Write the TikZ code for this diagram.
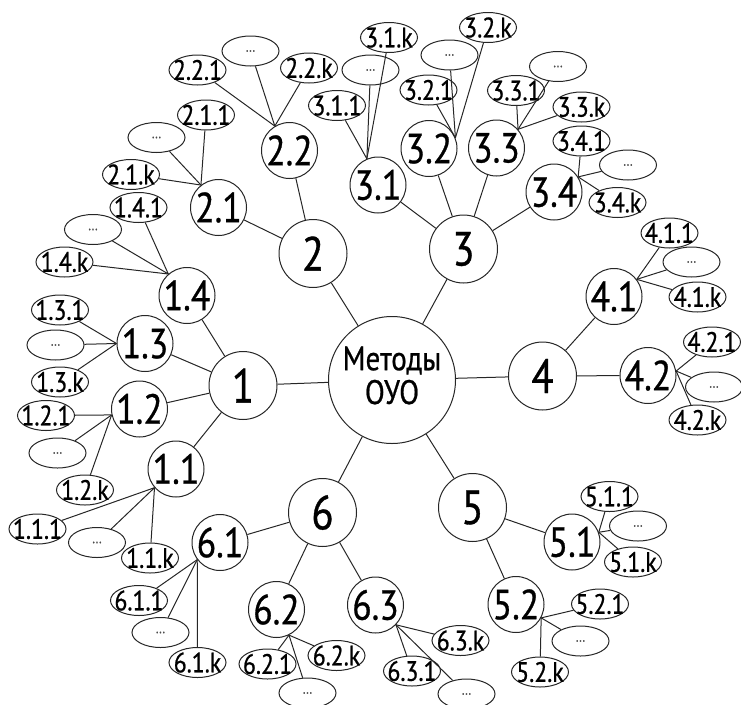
\documentclass[tikz,border=0pt]{standalone}
\usepackage{fontspec}
\setmainfont{PT Sans}[FakeStretch=0.85, FakeBold=0.7]
\usetikzlibrary{shapes.geometric}
\newcommand\zb[1]{\makebox[0pt]{#1}}
\tikzset{
  lvone/.style={circle, draw=black!85, fill=white, minimum size=68pt, inner sep=0pt, font=\fontsize{48}{48}\selectfont},
  lvtwo/.style={circle, draw=black!85, fill=white, minimum size=56pt, inner sep=0pt, font=\fontsize{42}{42}\selectfont},
  leaf/.style={ellipse, draw=black!85, fill=white, minimum width=57pt, minimum height=30pt, inner sep=0pt, font=\fontsize{28}{28}\selectfont},
  dots/.style={leaf, font=\fontsize{14}{14}\selectfont, text=black!70},
  hub/.style={circle, draw=black!85, fill=white, minimum size=127pt, inner sep=0pt, font=\fontsize{34}{32}\selectfont},
  link/.style={draw=black!85}
}
\begin{document}
\begin{tikzpicture}[x=1pt, y=-1pt, line width=1pt]
\useasboundingbox (0,0) rectangle (741,704);
% centre
\node[hub] (c) at (392,380) {\zb{\begin{tabular}{@{}c@{}}Методы\\ОУО\end{tabular}}};
% level 1
\node[lvone] (n1) at (243,385.5) {\zb{1}};
\node[lvone] (n2) at (313,253.5) {\zb{2}};
\node[lvone] (n3) at (463.5,249) {\zb{3}};
\node[lvone] (n4) at (542.5,376) {\zb{4}};
\node[lvone] (n5) at (472.5,507.5) {\zb{5}};
\node[lvone] (n6) at (322.5,512.5) {\zb{6}};
% level 2
\node[lvtwo] (n11) at (176,469) {\zb{1.1}};
\node[lvtwo] (n12) at (139.5,409) {\zb{1.2}};
\node[lvtwo] (n13) at (145,343.5) {\zb{1.3}};
\node[lvtwo] (n14) at (187,295.5) {\zb{1.4}};
\node[lvtwo] (n21) at (218.5,207.5) {\zb{2.1}};
\node[lvtwo] (n22) at (289.5,150.5) {\zb{2.2}};
\node[lvtwo] (n31) at (378,185) {\zb{3.1}};
\node[lvtwo] (n32) at (429,148.5) {\zb{3.2}};
\node[lvtwo] (n33) at (496.5,148) {\zb{3.3}};
\node[lvtwo] (n34) at (554,192) {\zb{3.4}};
\node[lvtwo] (n41) at (614,296.5) {\zb{4.1}};
\node[lvtwo] (n42) at (648,375.5) {\zb{4.2}};
\node[lvtwo] (n51) at (572,542) {\zb{5.1}};
\node[lvtwo] (n52) at (516,604.5) {\zb{5.2}};
\node[lvtwo] (n61) at (220,542.5) {\zb{6.1}};
\node[lvtwo] (n62) at (276.5,609.5) {\zb{6.2}};
\node[lvtwo] (n63) at (375.5,605) {\zb{6.3}};
% leaves
\node[leaf] (l111) at (37.5,529) {\zb{1.1.1}};
\node[dots] (l11d) at (97,542.5) {\zb{...}};
\node[leaf] (l11k) at (150,558) {\zb{1.1.k}};
\node[leaf] (l121) at (46,415.5) {\zb{1.2.1}};
\node[dots] (l12d) at (57.5,453) {\zb{...}};
\node[leaf] (l12k) at (85,490) {\zb{1.2.k}};
\node[leaf] (l131) at (60,310) {\zb{1.3.1}};
\node[dots] (l13d) at (55.5,345) {\zb{...}};
\node[leaf] (l13k) at (60,382) {\zb{1.3.k}};
\node[leaf] (l141) at (138.5,207.5) {\zb{1.4.1}};
\node[dots] (l14d) at (93,229.5) {\zb{...}};
\node[leaf] (l14k) at (64.5,262) {\zb{1.4.k}};
\node[leaf] (l211) at (206,115) {\zb{2.1.1}};
\node[dots] (l21d) at (156.5,137.5) {\zb{...}};
\node[leaf] (l21k) at (131,174.5) {\zb{2.1.k}};
\node[leaf] (l221) at (197.5,70) {\zb{2.2.1}};
\node[dots] (l22d) at (250.5,51) {\zb{...}};
\node[leaf] (l22k) at (309,68) {\zb{2.2.k}};
\node[leaf] (l311) at (337,105.5) {\zb{3.1.1}};
\node[dots] (l31d) at (370.5,70) {\zb{...}};
\node[leaf] (l31k) at (389,37.5) {\zb{3.1.k}};
\node[leaf] (l321) at (428.5,90) {\zb{3.2.1}};
\node[dots] (l32d) at (449.5,55) {\zb{...}};
\node[leaf] (l32k) at (488,27.5) {\zb{3.2.k}};
\node[leaf] (l331) at (516,90.5) {\zb{3.3.1}};
\node[dots] (l33d) at (558,66.5) {\zb{...}};
\node[leaf] (l33k) at (581.5,107) {\zb{3.3.k}};
\node[leaf] (l341) at (581.5,141) {\zb{3.4.1}};
\node[dots] (l34d) at (628,165) {\zb{...}};
\node[leaf] (l34k) at (617.5,202.5) {\zb{3.4.k}};
\node[leaf] (l411) at (669.5,233) {\zb{4.1.1}};
\node[dots] (l41d) at (691.5,262) {\zb{...}};
\node[leaf] (l41k) at (697.5,297) {\zb{4.1.k}};
\node[leaf] (l421) at (712,342) {\zb{4.2.1}};
\node[dots] (l42d) at (714,387) {\zb{...}};
\node[leaf] (l42k) at (697.5,420) {\zb{4.2.k}};
\node[leaf] (l511) at (609.5,496.5) {\zb{5.1.1}};
\node[dots] (l51d) at (638,526) {\zb{...}};
\node[leaf] (l51k) at (633,562) {\zb{5.1.k}};
\node[leaf] (l521) at (600,604) {\zb{5.2.1}};
\node[dots] (l52d) at (580.5,641) {\zb{...}};
\node[leaf] (l52k) at (540,672) {\zb{5.2.k}};
\node[leaf] (l611) at (139,600.5) {\zb{6.1.1}};
\node[dots] (l61d) at (160.5,632.5) {\zb{...}};
\node[leaf] (l61k) at (197.5,662.5) {\zb{6.1.k}};
\node[leaf] (l621) at (267.5,664) {\zb{6.2.1}};
\node[dots] (l62d) at (307.5,693) {\zb{...}};
\node[leaf] (l62k) at (336.5,655.5) {\zb{6.2.k}};
\node[leaf] (l631) at (412,671) {\zb{6.3.1}};
\node[dots] (l63d) at (466.5,694) {\zb{...}};
\node[leaf] (l63k) at (460.5,640.5) {\zb{6.3.k}};
% centre to level 1
\foreach \i in {1,...,6} \draw[link] (c) -- (n\i);
% level 1 to level 2
\foreach \a/\b in {1/11,1/12,1/13,1/14,2/21,2/22,3/31,3/32,3/33,3/34,4/41,4/42,5/51,5/52,6/61,6/62,6/63}
  \draw[link] (n\a) -- (n\b);
% level 2 to leaves, from a common point on the circle
\foreach \p/\ang in {11/221,12/192,13/180,14/131,21/128,22/121,31/113,32/22,33/41,34/32,41/37,42/9,51/20,52/332,61/217,62/296,63/316}
  \foreach \s in {1,d,k}
    \draw[link] (n\p.\ang) -- (l\p\s);
\end{tikzpicture}
\end{document}
